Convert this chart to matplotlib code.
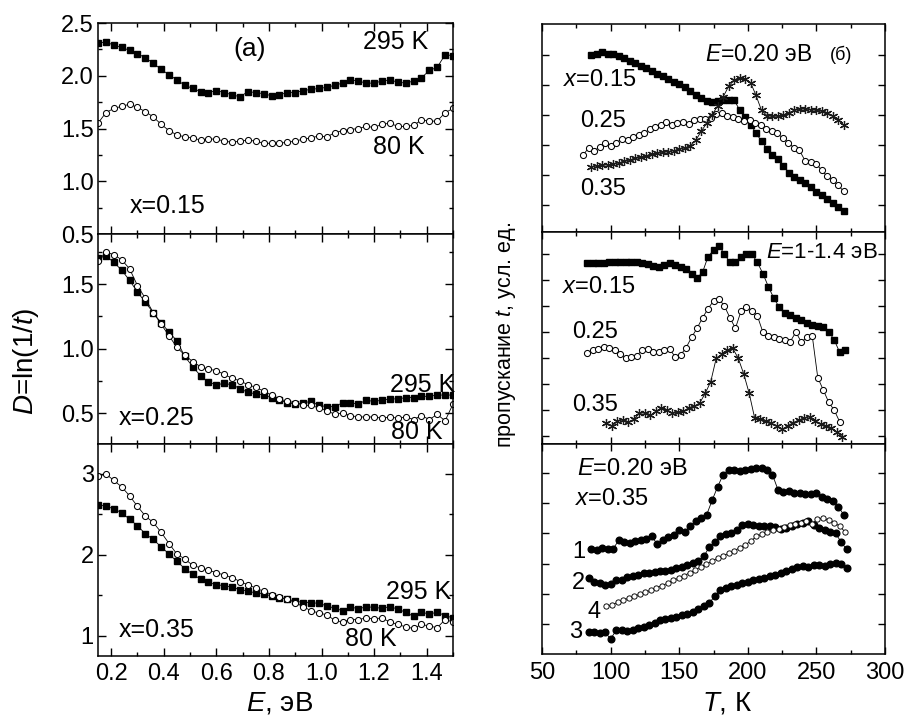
import numpy as np
import matplotlib
matplotlib.use("Agg")
import matplotlib.pyplot as plt
from matplotlib.ticker import MultipleLocator, NullFormatter

plt.rcParams['font.family'] = ['Liberation Sans', 'DejaVu Sans']
plt.rcParams['mathtext.fontset'] = 'custom'
plt.rcParams['mathtext.rm'] = 'Liberation Sans'
plt.rcParams['mathtext.it'] = 'Liberation Sans:italic'

# ---- left column: D = ln(1/t) vs E, eV ----
d015_295 = [2.31, 2.32, 2.29, 2.27, 2.24, 2.21, 2.17, 2.12, 2.06, 2.01,
            1.96, 1.91, 1.88, 1.85, 1.84, 1.86, 1.84, 1.82, 1.80, 1.85,
            1.84, 1.83, 1.81, 1.82, 1.84, 1.84, 1.86, 1.87, 1.88, 1.89,
            1.91, 1.93, 1.96, 1.95, 1.93, 1.93, 1.95, 1.96, 1.94, 1.93,
            1.95, 1.98, 2.05, 2.08, 2.20, 2.19]
d015_80 = [1.55, 1.65, 1.69, 1.71, 1.73, 1.70, 1.66, 1.61, 1.54, 1.48,
           1.44, 1.42, 1.41, 1.39, 1.40, 1.40, 1.38, 1.37, 1.38, 1.39,
           1.38, 1.36, 1.36, 1.36, 1.37, 1.38, 1.40, 1.41, 1.43, 1.42,
           1.46, 1.48, 1.49, 1.50, 1.52, 1.51, 1.54, 1.55, 1.52, 1.52,
           1.53, 1.58, 1.57, 1.57, 1.65, 1.69]
d025_295 = [1.70, 1.72, 1.67, 1.61, 1.53, 1.44, 1.36, 1.28, 1.20, 1.13,
            1.06, 0.94, 0.86, 0.79, 0.74, 0.72, 0.73, 0.72, 0.69, 0.66,
            0.65, 0.64, 0.62, 0.60, 0.58, 0.57, 0.58, 0.59, 0.56, 0.55,
            0.55, 0.58, 0.58, 0.57, 0.60, 0.59, 0.60, 0.61, 0.61, 0.62,
            0.62, 0.63, 0.63, 0.64, 0.64, 0.64]
d025_80 = [1.68, 1.75, 1.73, 1.69, 1.62, 1.49, 1.39, 1.28, 1.19, 1.10,
           1.01, 0.95, 0.90, 0.86, 0.84, 0.83, 0.80, 0.77, 0.75, 0.72,
           0.70, 0.67, 0.64, 0.61, 0.59, 0.58, 0.56, 0.56, 0.54, 0.52,
           0.49, 0.50, 0.48, 0.47, 0.47, 0.47, 0.46, 0.47, 0.46, 0.47,
           0.45, 0.48, 0.45, 0.49, 0.44, 0.57]
d035_295 = [2.62, 2.60, 2.57, 2.52, 2.44, 2.36, 2.26, 2.19, 2.10, 2.01,
            1.92, 1.83, 1.76, 1.70, 1.66, 1.63, 1.62, 1.60, 1.57, 1.55,
            1.53, 1.52, 1.49, 1.47, 1.45, 1.43, 1.41, 1.41, 1.40, 1.37,
            1.34, 1.31, 1.36, 1.33, 1.36, 1.35, 1.34, 1.36, 1.33, 1.29,
            1.24, 1.29, 1.27, 1.29, 1.25, 1.22]
d035_80 = [2.97, 3.00, 2.92, 2.84, 2.73, 2.60, 2.48, 2.40, 2.28, 2.14,
           2.01, 1.95, 1.87, 1.84, 1.81, 1.78, 1.75, 1.72, 1.67, 1.63,
           1.59, 1.55, 1.51, 1.48, 1.45, 1.41, 1.36, 1.31, 1.28, 1.26,
           1.19, 1.17, 1.20, 1.20, 1.22, 1.21, 1.22, 1.17, 1.14, 1.11,
           1.09, 1.14, 1.12, 1.10, 1.20, 1.17]

# ---- right column: transmission t (arb. units) vs T, K ----
# top: E = 0.20 eV
t1_015 = [5.90, 5.93, 6.00, 5.93, 5.92, 5.87, 5.80, 5.70, 5.62, 5.54,
          5.45, 5.37, 5.28, 5.20, 5.10, 5.01, 4.92, 4.82, 4.70, 4.56,
          4.47, 4.38, 4.33, 4.38, 4.40, 4.41, 4.40, 4.07, 3.82, 3.58,
          3.30, 3.02, 2.78, 2.58, 2.42, 2.20, 1.98, 1.82, 1.72, 1.62,
          1.50, 1.33, 1.22, 1.10, 0.98, 0.82, 0.70]
t1_025 = [2.57, 2.80, 2.70, 2.84, 2.95, 2.88, 2.98, 3.10, 3.08, 3.18,
          3.22, 3.30, 3.42, 3.50, 3.58, 3.66, 3.58, 3.62, 3.66, 3.60,
          3.72, 3.78, 3.76, 3.80, 3.92, 3.98, 3.88, 3.84, 3.76, 3.70,
          3.72, 3.62, 3.55, 3.42, 3.38, 3.30, 3.12, 2.98, 2.80, 2.72,
          2.38, 2.32, 2.28, 2.05, 1.86, 1.72, 1.55, 1.35]
t1_035 = [2.18, 2.20, 2.22, 2.24, 2.27, 2.30, 2.35, 2.40, 2.45, 2.49,
          2.54, 2.59, 2.62, 2.65, 2.68, 2.71, 2.76, 2.80, 2.88, 3.05,
          3.35, 3.62, 3.90, 4.20, 4.50, 4.85, 5.07, 5.12, 5.10, 4.98,
          4.55, 4.05, 3.88, 3.85, 3.86, 3.90, 3.98, 4.05, 4.10, 4.10,
          4.07, 4.06, 4.02, 3.96, 3.88, 3.72, 3.57]
# middle: E = 1-1.4 eV
t2_015 = [6.95, 6.96, 6.95, 6.97, 6.98, 7.00, 6.99, 7.01, 7.01, 6.98,
          6.95, 6.93, 6.86, 6.80, 6.88, 6.95, 6.90, 6.82, 6.74, 6.55,
          6.38, 6.60, 7.20, 7.45, 7.62, 7.30, 6.98, 6.98, 7.20, 7.32,
          7.30, 6.98, 6.55, 6.05, 5.60, 5.25, 5.05, 4.95, 4.85, 4.75,
          4.65, 4.58, 4.52, 4.50, 4.32, 4.00, 3.52, 3.62]
t2_025 = [3.49, 3.60, 3.66, 3.72, 3.68, 3.60, 3.45, 3.30, 3.34, 3.40,
          3.60, 3.66, 3.55, 3.52, 3.62, 3.66, 3.35, 3.42, 3.70, 4.10,
          4.45, 4.85, 5.20, 5.50, 5.58, 5.30, 4.85, 4.45, 5.10, 5.28,
          5.12, 4.92, 4.30, 4.15, 4.10, 4.02, 4.00, 3.94, 4.30, 3.92,
          4.10, 4.15, 2.55, 2.08, 1.60, 1.30, 0.85]
t2_035 = [0.80, 0.70, 0.90, 0.92, 0.85, 0.95, 1.18, 1.20, 1.10, 1.25,
          1.40, 1.30, 1.18, 1.22, 1.25, 1.40, 1.45, 1.58, 1.95, 2.40,
          3.30, 3.45, 3.60, 3.68, 3.30, 2.70, 1.95, 1.00, 0.95, 0.90,
          0.80, 0.68, 0.56, 0.70, 0.82, 0.92, 0.99, 1.05, 0.90, 0.78,
          0.70, 0.62, 0.45, 0.28]
# bottom: E = 0.20 eV, x = 0.35, curves 1-4
t3_1 = [3.47, 3.45, 3.52, 3.48, 3.50, 3.78, 3.72, 3.69, 3.74, 3.78,
        3.82, 3.90, 3.65, 3.78, 3.88, 3.95, 4.12, 4.05, 4.25, 4.40,
        4.52, 4.62, 5.10, 5.55, 5.95, 6.12, 6.10, 6.08, 6.12, 6.13,
        6.18, 6.19, 6.10, 5.95, 5.45, 5.38, 5.40, 5.36, 5.35, 5.30,
        5.32, 5.36, 5.22, 5.15, 5.08, 4.88, 4.62]
t3_2 = [2.52, 2.38, 2.35, 2.30, 2.33, 2.45, 2.45, 2.55, 2.58, 2.62,
        2.68, 2.70, 2.72, 2.75, 2.76, 2.80, 2.85, 2.90, 2.95, 3.02,
        3.10, 3.25, 3.55, 3.72, 3.90, 3.98, 4.02, 4.12, 4.28, 4.30,
        4.28, 4.26, 4.24, 4.24, 4.22, 4.15, 4.18, 4.25, 4.30, 4.35,
        4.41, 4.28, 4.18, 4.10, 4.05, 4.00, 3.72, 3.47]
t3_3 = [0.74, 0.72, 0.70, 0.72, 0.50, 0.78, 0.80, 0.76, 0.78, 0.86,
        0.91, 0.95, 1.02, 1.12, 1.15, 1.19, 1.22, 1.28, 1.32, 1.40,
        1.48, 1.58, 1.70, 1.92, 2.12, 2.20, 2.25, 2.30, 2.35, 2.40,
        2.44, 2.48, 2.52, 2.58, 2.63, 2.69, 2.75, 2.82, 2.90, 2.92,
        2.88, 2.95, 2.96, 2.92, 2.98, 3.02, 2.98, 2.86]
t3_4 = [1.58, 1.62, 1.72, 1.79, 1.85, 1.92, 1.98, 2.05, 2.12, 2.20,
        2.27, 2.35, 2.44, 2.52, 2.60, 2.70, 2.78, 2.90, 2.98, 3.08,
        3.18, 3.26, 3.34, 3.42, 3.53, 3.62, 3.75, 3.90, 3.98, 4.06,
        4.10, 4.14, 4.22, 4.27, 4.32, 4.36, 4.40, 4.32, 4.48, 4.52,
        4.44, 4.36, 4.24, 4.05]


def grid(a, b, vals):
    # measurement points are evenly spaced between first and last reading
    return np.linspace(a, b, len(vals))


fig = plt.figure(figsize=(9.07, 7.17), dpi=100)

W, H = 907.0, 717.0
def add_ax(x0, x1, y0, y1):
    return fig.add_axes([x0 / W, 1 - y1 / H, (x1 - x0) / W, (y1 - y0) / H])

axL = [add_ax(98, 453, 23, 234), add_ax(98, 453, 234, 444), add_ax(98, 453, 444, 656)]
axR = [add_ax(542, 885, 24, 232), add_ax(542, 885, 232, 444), add_ax(542, 885, 444, 654)]

sq = dict(color='k', lw=0.6, marker='s', ms=4.0, mfc='k', mec='k')
oc = dict(color='k', lw=0.6, marker='o', ms=4.4, mfc='white', mec='k', mew=0.75)
oc_s = dict(color='k', lw=0.6, marker='o', ms=3.8, mfc='white', mec='k', mew=0.65)
st = dict(color='k', lw=0.6, marker=(6, 2, 0), ms=6.5, mec='#1a1a1a', mew=0.9)
fc = dict(color='k', lw=0.6, marker='o', ms=4.8, mfc='k', mec='k')

FS_T = 17
FS_A = 18

def style(ax):
    ax.tick_params(which='both', direction='in', top=True, right=True,
                   width=1.0, labelsize=FS_T)
    ax.tick_params(which='major', length=6)
    ax.tick_params(which='minor', length=3)
    for s in ax.spines.values():
        s.set_linewidth(1.1)

# left panels
left_sets = [(d015_295, d015_80, (0.5, 2.5), 0.5, 0.25),
             (d025_295, d025_80, (0.26, 1.89), 0.5, 0.25),
             (d035_295, d035_80, (0.75, 3.37), 1.0, 0.5)]
for i, (hot, cold, yl, maj, mnr) in enumerate(left_sets):
    ax = axL[i]
    ax.plot(grid(0.15, 1.50, hot), hot, **sq)
    ax.plot(grid(0.15, 1.50, cold), cold, **oc)
    ax.set_xlim(0.15, 1.5)
    ax.set_ylim(*yl)
    ax.xaxis.set_major_locator(MultipleLocator(0.2))
    ax.xaxis.set_minor_locator(MultipleLocator(0.1))
    ax.yaxis.set_major_locator(MultipleLocator(maj))
    ax.yaxis.set_minor_locator(MultipleLocator(mnr))
    style(ax)
    ax.tick_params(axis='y', pad=3)
    ax.tick_params(axis='x', pad=5)
    if i < 2:
        ax.xaxis.set_major_formatter(NullFormatter())
    else:
        ax.set_yticks([1, 2, 3])
        ax.set_xticks([0.2, 0.4, 0.6, 0.8, 1.0, 1.2, 1.4])
        ax.set_xticklabels(['0.2', '0.4', '0.6', '0.8', '1.0', '1.2', '1.4'])

axL[0].set_yticks([0.5, 1.0, 1.5, 2.0, 2.5])
axL[0].set_yticklabels(['0.5', '1.0', '1.5', '2.0', '2.5'])
axL[1].set_yticks([0.5, 1.0, 1.5])
axL[1].set_yticklabels(['0.5', '1.0', '1.5'])

axL[0].text(0.728, 2.25, '(a)', fontsize=19, ha='center', va='center')
axL[0].text(1.158, 2.32, '295 K', fontsize=FS_A, va='center')
axL[0].text(1.196, 1.32, '80 K', fontsize=FS_A, va='center')
axL[0].text(0.272, 0.77, 'x=0.15', fontsize=FS_A, va='center')
axL[1].text(1.26, 0.72, '295 K', fontsize=FS_A, va='center')
axL[1].text(1.266, 0.352, '80 K', fontsize=FS_A, va='center')
axL[1].text(0.228, 0.46, 'x=0.25', fontsize=FS_A, va='center')
axL[2].text(1.247, 1.54, '295 K', fontsize=FS_A, va='center')
axL[2].text(1.089, 0.96, '80 K', fontsize=FS_A, va='center')
axL[2].text(0.228, 1.07, 'x=0.35', fontsize=FS_A, va='center')

# right panels
r0, r1, r2 = axR
r0.plot(grid(86, 270, t1_015), t1_015, **sq)
r0.plot(grid(80, 270, t1_025), t1_025, **oc)
r0.plot(grid(86, 270, t1_035), t1_035, **st)
r0.set_ylim(0, 6.93)
r0.set_yticks(np.arange(0.9, 6.5, 1.0))

r1.plot(grid(83, 271, t2_015), t2_015, **sq)
r1.plot(grid(83, 267, t2_025), t2_025, **oc)
r1.plot(grid(97, 269, t2_035), t2_035, **st)
r1.set_ylim(0, 8.15)
r1.set_yticks(np.arange(0.31, 8.0, 1.0))

r2.plot(grid(86, 270, t3_1), t3_1, **fc)
r2.plot(grid(84, 272, t3_2), t3_2, **fc)
r2.plot(grid(84, 272, t3_3), t3_3, **fc)
r2.plot(grid(97, 271, t3_4), t3_4, **oc_s)
r2.set_ylim(0, 6.97)
r2.set_yticks(np.arange(1, 6.5, 1.0))

for i, ax in enumerate(axR):
    ax.set_xlim(50, 300)
    ax.xaxis.set_major_locator(MultipleLocator(50))
    ax.xaxis.set_minor_locator(MultipleLocator(25))
    style(ax)
    ax.tick_params(which='major', length=5)
    ax.yaxis.set_major_formatter(NullFormatter())
    ax.tick_params(axis='x', pad=6)
    if i < 2:
        ax.xaxis.set_major_formatter(NullFormatter())

FS_R = 17
r0.text(168.8, 5.9, '$E$=0.20 эВ', fontsize=16.5, va='center')
r0.text(259.5, 5.9, '(б)', fontsize=13, va='center')
r0.text(65.3, 5.07, '$x$=0.15', fontsize=FS_R, va='center')
r0.text(77.7, 3.7, '0.25', fontsize=FS_R, va='center')
r0.text(77.7, 1.43, '0.35', fontsize=FS_R, va='center')

r1.text(213, 7.37, '$E$=1-1.4 эВ', fontsize=16, va='center')
r1.text(64.6, 6.04, '$x$=0.15', fontsize=FS_R, va='center')
r1.text(71.9, 4.31, '0.25', fontsize=FS_R, va='center')
r1.text(71.9, 1.5, '0.35', fontsize=FS_R, va='center')

r2.text(75.5, 6.13, '$E$=0.20 эВ', fontsize=17, va='center')
r2.text(74, 5.13, '$x$=0.35', fontsize=17, va='center')
r2.text(71.9, 3.4, '1', fontsize=FS_R, va='center')
r2.text(71.9, 2.37, '2', fontsize=FS_R, va='center')
r2.text(83.5, 1.4, '4', fontsize=FS_R, va='center')
r2.text(70, 0.73, '3', fontsize=FS_R, va='center')

# axis titles
fig.text(26 / W, 1 - 361 / H, '$D$=ln(1/$t$)', rotation=90, fontsize=20,
         ha='center', va='center')
fig.text(506 / W, 1 - 335 / H, 'пропускание $t$, усл. ед.', rotation=90,
         fontsize=15.5, ha='center', va='center')
fig.text(280 / W, 1 - 703 / H, '$E$, эВ', fontsize=20, ha='center', va='center')
fig.text(727 / W, 1 - 703 / H, '$T$, К', fontsize=20, ha='center', va='center')

fig.savefig('out.png', dpi=100)
